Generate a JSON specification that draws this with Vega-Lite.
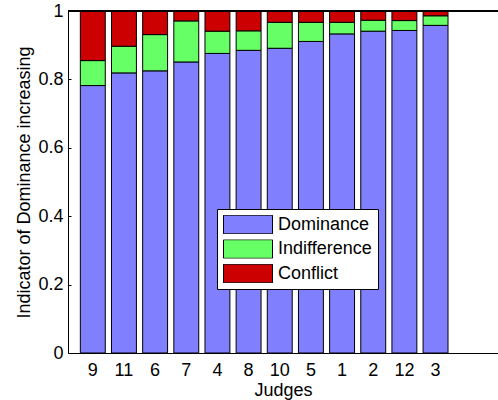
{
  "$schema": "https://vega.github.io/schema/vega-lite/v6.json",
  "autosize": {"type": "none"},
  "padding": {"left": 68, "top": 11, "right": 0, "bottom": 47},
  "width": 430,
  "height": 342,
  "config": {
    "font": "Liberation Sans",
    "view": {"stroke": null},
    "axis": {"labelFont": "Liberation Sans", "titleFont": "Liberation Sans", "labelColor": "#000", "titleColor": "#000", "domainColor": "#000", "tickColor": "#000", "titleFontWeight": "normal", "grid": false}
  },
  "data": {
    "values": [
      {"judge": "9", "category": "Dominance", "value": 0.782},
      {"judge": "9", "category": "Indifference", "value": 0.073},
      {"judge": "9", "category": "Conflict", "value": 0.145},
      {"judge": "11", "category": "Dominance", "value": 0.819},
      {"judge": "11", "category": "Indifference", "value": 0.078},
      {"judge": "11", "category": "Conflict", "value": 0.103},
      {"judge": "6", "category": "Dominance", "value": 0.825},
      {"judge": "6", "category": "Indifference", "value": 0.106},
      {"judge": "6", "category": "Conflict", "value": 0.069},
      {"judge": "7", "category": "Dominance", "value": 0.851},
      {"judge": "7", "category": "Indifference", "value": 0.120},
      {"judge": "7", "category": "Conflict", "value": 0.029},
      {"judge": "4", "category": "Dominance", "value": 0.876},
      {"judge": "4", "category": "Indifference", "value": 0.065},
      {"judge": "4", "category": "Conflict", "value": 0.059},
      {"judge": "8", "category": "Dominance", "value": 0.885},
      {"judge": "8", "category": "Indifference", "value": 0.057},
      {"judge": "8", "category": "Conflict", "value": 0.058},
      {"judge": "10", "category": "Dominance", "value": 0.891},
      {"judge": "10", "category": "Indifference", "value": 0.076},
      {"judge": "10", "category": "Conflict", "value": 0.033},
      {"judge": "5", "category": "Dominance", "value": 0.911},
      {"judge": "5", "category": "Indifference", "value": 0.056},
      {"judge": "5", "category": "Conflict", "value": 0.033},
      {"judge": "1", "category": "Dominance", "value": 0.933},
      {"judge": "1", "category": "Indifference", "value": 0.034},
      {"judge": "1", "category": "Conflict", "value": 0.033},
      {"judge": "2", "category": "Dominance", "value": 0.941},
      {"judge": "2", "category": "Indifference", "value": 0.032},
      {"judge": "2", "category": "Conflict", "value": 0.027},
      {"judge": "12", "category": "Dominance", "value": 0.943},
      {"judge": "12", "category": "Indifference", "value": 0.029},
      {"judge": "12", "category": "Conflict", "value": 0.028},
      {"judge": "3", "category": "Dominance", "value": 0.958},
      {"judge": "3", "category": "Indifference", "value": 0.028},
      {"judge": "3", "category": "Conflict", "value": 0.014}
    ]
  },
  "layer": [
    {
      "transform": [
        {"calculate": "indexof(['Dominance','Indifference','Conflict'], datum.category)", "as": "stackOrder"}
      ],
      "mark": {"type": "bar", "stroke": "#000", "strokeWidth": 1},
      "encoding": {
        "x": {
          "field": "judge", "type": "nominal",
          "sort": ["9", "11", "6", "7", "4", "8", "10", "5", "1", "2", "12", "3"],
          "scale": {"paddingInner": 0.2, "paddingOuter": 1.515, "align": 0.198},
          "axis": {"title": "Judges", "titleFontSize": 18, "labelFontSize": 18, "labelAngle": 0, "ticks": false, "labelPadding": 8, "titlePadding": 2, "domainWidth": 1}
        },
        "y": {
          "field": "value", "type": "quantitative", "stack": "zero",
          "scale": {"domain": [0, 1], "nice": false},
          "axis": {"title": "Indicator of Dominance increasing", "titleFontSize": 18, "labelFontSize": 18, "values": [0, 0.2, 0.4, 0.6, 0.8, 1], "format": "~g", "tickSize": -3, "labelPadding": 8, "titlePadding": 4, "domainWidth": 1}
        },
        "order": {"field": "stackOrder", "type": "quantitative", "sort": "ascending"},
        "color": {
          "field": "category", "type": "nominal",
          "sort": ["Dominance", "Indifference", "Conflict"],
          "scale": {"domain": ["Dominance", "Indifference", "Conflict"], "range": ["#8080FF", "#66FF66", "#CC0000"]},
          "legend": {
            "title": null, "orient": "none", "legendX": 149, "legendY": 198,
            "fillColor": "#fff", "strokeColor": "#000", "padding": 6,
            "symbolType": "M-1,-0.38H1V0.38H-1Z", "symbolSize": 2401,
            "symbolStrokeColor": "#000", "symbolStrokeWidth": 1, "symbolOpacity": 1,
            "clipHeight": 19, "rowPadding": 5.5,
            "labelFontSize": 18, "labelFont": "Liberation Sans", "labelColor": "#000", "labelOffset": 5
          }
        }
      }
    },
    {
      "mark": {"type": "rule", "color": "#000", "strokeWidth": 1},
      "encoding": {"y": {"datum": 1}}
    }
  ]
}
